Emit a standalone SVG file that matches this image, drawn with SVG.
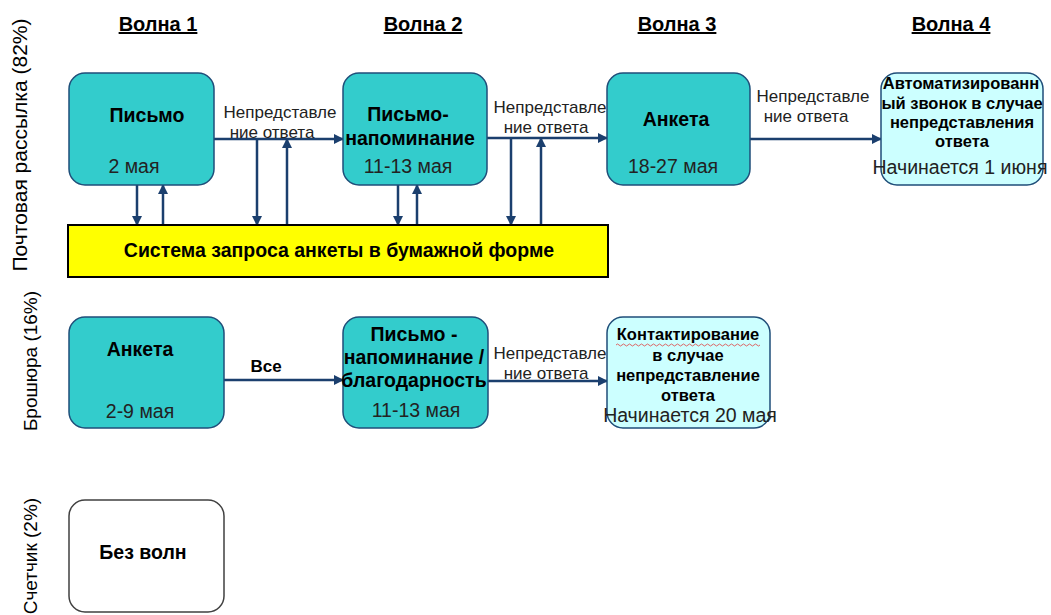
<svg xmlns="http://www.w3.org/2000/svg" width="1051" height="615" viewBox="0 0 1051 615">
  <defs>
    <marker id="ah" viewBox="0 0 10 10" refX="9" refY="5" markerWidth="4" markerHeight="4" orient="auto" markerUnits="strokeWidth">
      <path d="M0,0 L10,5 L0,10 z" fill="#1B3F6E"/>
    </marker>
    <style>
      text { font-family: "Liberation Sans", Arial, sans-serif; fill: #000; }
      .hdr { font-size: 20px; font-weight: bold; text-decoration: underline; text-anchor: middle; }
      .side { font-size: 19px; text-anchor: middle; }
      .t { font-size: 19.5px; font-weight: bold; text-anchor: middle; }
      .ts { font-size: 16.5px; font-weight: bold; text-anchor: middle; }
      .d { font-size: 19.5px; text-anchor: middle; fill: #222; }
      .lbl { font-size: 17px; text-anchor: middle; fill: #222; }
      .teal { fill: #33CCCC; stroke: #1F4E79; stroke-width: 1.5; }
      .lc { fill: #CCFFFF; stroke: #1F4E79; stroke-width: 1.5; }
      .wh { fill: #FFFFFF; stroke: #404040; stroke-width: 1.5; }
      .ar { fill: none; stroke: #1B3F6E; stroke-width: 2.5; marker-end: url(#ah); }
    </style>
  </defs>
  <rect width="1051" height="615" fill="#FFFFFF"/>

  <g id="headers">
    <text class="hdr" x="158" y="31">Волна 1</text>
    <text class="hdr" x="423" y="31">Волна 2</text>
    <text class="hdr" x="677" y="31">Волна 3</text>
    <text class="hdr" x="951" y="31">Волна 4</text>
  </g>

  <g id="side-labels">
    <text class="side" transform="translate(27,145) rotate(-90)" style="font-size:21px">Почтовая рассылка (82%)</text>
    <text class="side" transform="translate(37,361) rotate(-90)">Брошюра (16%)</text>
    <text class="side" transform="translate(37,556) rotate(-90)">Счетчик (2%)</text>
  </g>

  <g id="connectors">
    <path class="ar" d="M212,139 H343"/>
    <path class="ar" d="M487,138 H607"/>
    <path class="ar" d="M750,139 H881"/>
    <path class="ar" d="M137,185 V225"/>
    <path class="ar" d="M163,225 V185"/>
    <path class="ar" d="M257,139 V225"/>
    <path class="ar" d="M287,225 V139"/>
    <path class="ar" d="M398,185 V225"/>
    <path class="ar" d="M417,225 V185"/>
    <path class="ar" d="M511,138 V225"/>
    <path class="ar" d="M541,225 V138"/>
    <path class="ar" d="M222,380 H343"/>
    <path class="ar" d="M488,381 H607"/>
    <text class="lbl" x="280" y="118">Непредставле</text>
    <text class="lbl" x="272" y="138">ние ответа</text>
    <text class="lbl" x="550" y="113">Непредставле</text>
    <text class="lbl" x="546" y="133">ние ответа</text>
    <text class="lbl" x="813" y="102">Непредставле</text>
    <text class="lbl" x="806" y="122">ние ответа</text>
    <text class="lbl" x="550" y="359">Непредставле</text>
    <text class="lbl" x="546" y="379">ние ответа</text>
    <text x="266" y="372" style="font-size:17px;font-weight:bold;text-anchor:middle">Все</text>
  </g>

  <g id="n-pismo">
    <rect class="teal" x="69" y="73" width="145" height="112" rx="16"/>
    <text class="t" x="147" y="122">Письмо</text>
    <text class="d" x="134" y="173">2 мая</text>
  </g>

  <g id="n-napominanie">
    <rect class="teal" x="343" y="73" width="144" height="112" rx="16"/>
    <text class="t" x="408" y="121">Письмо-</text>
    <text class="t" x="410" y="145">напоминание</text>
    <text class="d" x="408" y="173">11-13 мая</text>
  </g>

  <g id="n-anketa3">
    <rect class="teal" x="607" y="73" width="143" height="112" rx="16"/>
    <text class="t" x="676" y="126">Анкета</text>
    <text class="d" x="673" y="173">18-27 мая</text>
  </g>

  <g id="n-zvonok">
    <rect class="lc" x="881" y="73" width="162" height="112" rx="16"/>
    <text class="ts" x="961" y="89">Автоматизированн</text>
    <text class="ts" x="962" y="109">ый звонок в случае</text>
    <text class="ts" x="962" y="128">непредставления</text>
    <text class="ts" x="962" y="147">ответа</text>
    <text class="d" x="960" y="174">Начинается 1 июня</text>
  </g>

  <g id="n-system">
    <rect x="68" y="225" width="540" height="52" fill="#FFFF00" stroke="#000" stroke-width="2"/>
    <text class="t" x="339" y="257">Система запроса анкеты в бумажной форме</text>
  </g>

  <g id="n-anketa1">
    <rect class="teal" x="69" y="317" width="155" height="111" rx="16"/>
    <text class="t" x="140" y="356">Анкета</text>
    <text class="d" x="140" y="418">2-9 мая</text>
  </g>

  <g id="n-blagodarnost">
    <rect class="teal" x="343" y="317" width="145" height="111" rx="16"/>
    <text class="t" x="414" y="341">Письмо -</text>
    <text class="t" x="414" y="364">напоминание /</text>
    <text class="t" x="414" y="387">благодарность</text>
    <text class="d" x="416" y="417">11-13 мая</text>
  </g>

  <g id="n-kontakt">
    <rect class="lc" x="607" y="317" width="163" height="111" rx="16"/>
    <text class="ts" x="688" y="340">Контактирование</text>
    <path d="M616,345 q1.5,-2 3,0 t3,0 t3,0 t3,0 t3,0 t3,0 t3,0 t3,0 t3,0 t3,0 t3,0 t3,0 t3,0 t3,0 t3,0 t3,0 t3,0 t3,0 t3,0 t3,0 t3,0 t3,0 t3,0 t3,0 t3,0 t3,0 t3,0 t3,0 t3,0 t3,0 t3,0 t3,0 t3,0 t3,0 t3,0 t3,0 t3,0 t3,0 t3,0 t3,0 t3,0 t3,0 t3,0 t3,0 t3,0 t3,0 t3,0 t3,0" fill="none" stroke="#E04040" stroke-width="0.8"/>
    <text class="ts" x="688" y="361">в случае</text>
    <text class="ts" x="688" y="381">непредставление</text>
    <text class="ts" x="688" y="401">ответа</text>
    <text class="d" x="690" y="422">Начинается 20 мая</text>
  </g>

  <g id="n-bez-voln">
    <rect class="wh" x="69" y="500" width="155" height="112" rx="16"/>
    <text class="t" x="143" y="559">Без волн</text>
  </g>
</svg>
